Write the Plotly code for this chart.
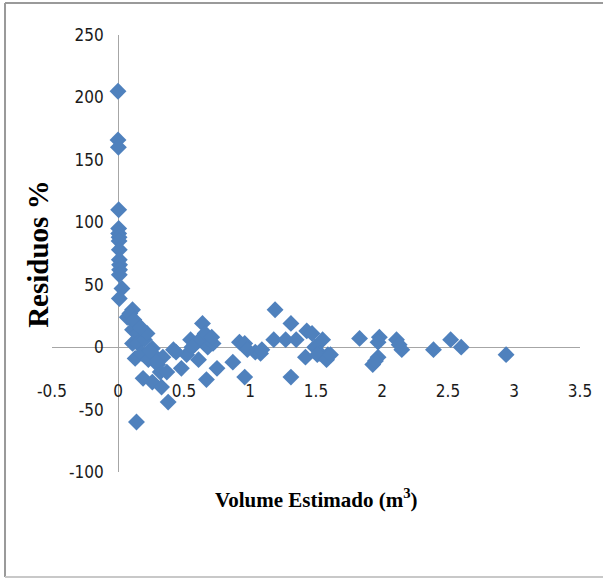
import plotly.graph_objects as go

# Estimated volume (m3) and residuals (%)
volume = [
    0.00, 0.00, 0.003, 0.005, 0.005, 0.005, 0.008, 0.008, 0.010, 0.010, 0.012, 0.012, 0.010, 0.030, 0.010,
    0.07, 0.11, 0.13, 0.11, 0.15, 0.11, 0.15, 0.20, 0.22, 0.13, 0.18, 0.26, 0.27, 0.23, 0.19,
    0.26, 0.30, 0.32, 0.34, 0.37, 0.33, 0.38, 0.42, 0.48, 0.52, 0.55, 0.58, 0.62, 0.61, 0.64,
    0.66, 0.68, 0.72, 0.75, 0.67, 0.71, 0.14, 0.56, 0.09, 0.12, 0.17, 0.24, 0.29, 0.44,
    0.87, 0.92, 0.96, 0.98, 0.96, 1.04, 1.08, 1.09, 1.19, 1.18, 1.27, 1.31, 1.35, 1.31,
    1.42, 1.43, 1.47, 1.49, 1.55, 1.53, 1.59, 1.51, 1.58, 1.61,
    1.83, 1.98, 1.97, 1.93, 1.97, 1.95, 2.11, 2.15, 2.13, 2.39, 2.52, 2.60, 2.94,
]
residuals = [
    205, 166, 160, 110, 95, 91, 88, 85, 78, 70, 66, 62, 58, 47, 39,
    24, 30, 19, 14, 11, 3, 3, 6, 11, -9, -5, -1, -6, -10, -25,
    -28, -14, -20, -8, -20, -32, -44, -2, -17, -6, 6, 2, 6, -10, 19,
    11, 0, 3, -17, -26, 8, -60, 0, 27, 22, 16, -3, -12, -4,
    -12, 4, 3, -2, -24, -4, -5, -2, 30, 6, 6, 19, 6, -24,
    -8, 13, 11, 0, 6, -5, -6, -6, -10, -6,
    7, 8, 4, -14, -8, -11, 6, -2, 2, -2, 6, 0, -6,
]

x_ticks = [-0.5, 0, 0.5, 1, 1.5, 2, 2.5, 3, 3.5]
x_tick_text = ["-0.5", "0", "0.5", "1", "1.5", "2", "2.5", "3", "3.5"]
y_ticks = [-100, -50, 0, 50, 100, 150, 200, 250]
y_tick_text = ["-100", "-50", "0", "50", "100", "150", "200", "250"]

x_title = "Volume Estimado (m<sup>3</sup>)"
y_title = "Residuos %"

tick_font = dict(family="Liberation Sans Narrow, DejaVu Sans Condensed, Arial Narrow, sans-serif",
                 size=17, color="#1a1a1a")
title_font_family = "Liberation Serif, Times New Roman, serif"

fig = go.Figure()
fig.add_trace(go.Scatter(
    x=volume, y=residuals, mode="markers",
    marker=dict(symbol="diamond", size=13, color="#4F81BD", line=dict(width=0)),
    showlegend=False,
))

fig.update_layout(
    width=603, height=579,
    margin=dict(l=52, r=23, t=35, b=107),
    paper_bgcolor="white", plot_bgcolor="white",
    xaxis=dict(
        range=[-0.5, 3.5], tickvals=x_ticks, ticktext=x_tick_text,
        showgrid=False, showline=False, ticks="",
        zeroline=True, zerolinecolor="#A6A6A6", zerolinewidth=1,
        anchor="free", position=0.212, tickfont=tick_font,
    ),
    yaxis=dict(
        range=[-100, 250], tickvals=y_ticks, ticktext=y_tick_text,
        showgrid=False, showline=False, ticks="",
        zeroline=True, zerolinecolor="#A6A6A6", zerolinewidth=1,
        anchor="free", position=0.098, tickfont=tick_font,
    ),
    annotations=[
        dict(text=y_title, xref="paper", yref="paper", x=-0.0265, y=0.497,
             textangle=-90, showarrow=False, xanchor="center", yanchor="middle",
             font=dict(family=title_font_family, size=29, color="black", weight="bold")),
        dict(text=x_title, xref="paper", yref="paper", x=0.5, y=-0.06,
             showarrow=False, xanchor="center", yanchor="middle",
             font=dict(family=title_font_family, size=21, color="black", weight="bold")),
    ],
    shapes=[
        dict(type="line", xref="paper", yref="paper", x0=-0.089, x1=-0.089, y0=1.073, y1=-0.240,
             line=dict(color="#9A9A9A", width=2)),
        dict(type="line", xref="paper", yref="paper", x0=-0.089, x1=1.05, y0=1.073, y1=1.073,
             line=dict(color="#9A9A9A", width=2)),
        dict(type="line", xref="paper", yref="paper", x0=-0.089, x1=1.05, y0=-0.240, y1=-0.240,
             line=dict(color="#C8C8C8", width=2)),
    ],
)

fig.write_html("out.html")
